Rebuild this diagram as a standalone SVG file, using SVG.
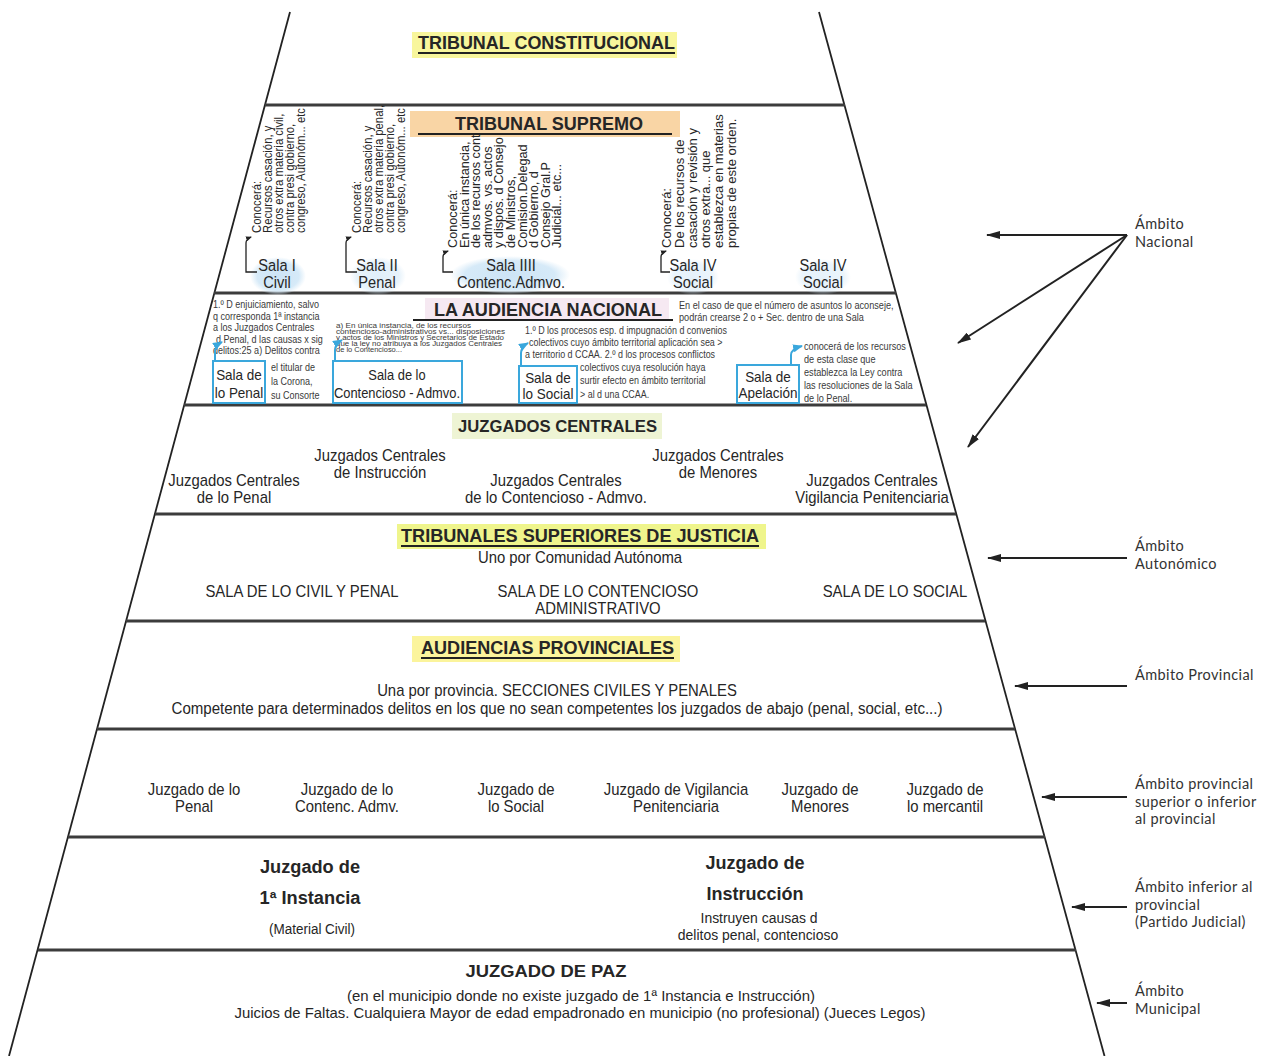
<svg xmlns="http://www.w3.org/2000/svg" width="1271" height="1056" viewBox="0 0 1271 1056">
<style>
 .t{font-family:"Liberation Sans",Arial,sans-serif;fill:#262626}
 .b{font-weight:bold}
 .n{font-size:16px}
 .sl{font-size:17px}
 .bx{font-size:15px}
 .sm{font-size:10.5px;fill:#3a3a3a}
 .tiny{font-size:7.5px;fill:#3a3a3a}
 .side{font-family:Lato,"Open Sans",sans-serif;font-size:14.5px;letter-spacing:0.4px;fill:#333}
 .edge{stroke:#222;stroke-width:1.8;fill:none}
 .band{stroke:#3c3c3c;stroke-width:3;fill:none}
 .ul{stroke:#222;stroke-width:2}
 .box{fill:#fff;stroke:#3aa7dc;stroke-width:2}
 .blue{stroke:#3aa7dc;stroke-width:2;fill:none}
 .arr{stroke:#222;stroke-width:2;fill:none}
 .brk{stroke:#222;stroke-width:1.3;fill:none}
</style>
<defs>
 <marker id="ah" viewBox="0 0 14 8" refX="13" refY="4" markerWidth="14" markerHeight="8" markerUnits="userSpaceOnUse" orient="auto"><path d="M0,0 L14,4 L0,8 Z" fill="#222"/></marker>
 <marker id="bh" viewBox="0 0 10 8" refX="9" refY="4" markerWidth="10" markerHeight="8" markerUnits="userSpaceOnUse" orient="auto"><path d="M0,0 L10,4 L0,8 Z" fill="#3aa7dc"/></marker>
 <marker id="sh" viewBox="0 0 6 5" refX="5" refY="2.5" markerWidth="6" markerHeight="5" markerUnits="userSpaceOnUse" orient="auto"><path d="M0,0 L6,2.5 L0,5 Z" fill="#222"/></marker>
 <radialGradient id="eg"><stop offset="0" stop-color="#cde4f6"/><stop offset="0.75" stop-color="#d6eaf8"/><stop offset="1" stop-color="#d9ebf8" stop-opacity="0"/></radialGradient>
</defs>

<g id="frame">
 <line class="edge" x1="290" y1="12" x2="9" y2="1056"/>
 <line class="edge" x1="819" y1="12" x2="1104.5" y2="1056"/>
 <line class="band" x1="265" y1="105" x2="845" y2="105"/>
 <line class="band" x1="214" y1="293" x2="896" y2="293"/>
 <line class="band" x1="184" y1="405" x2="926" y2="405"/>
 <line class="band" x1="155" y1="514" x2="956" y2="514"/>
 <line class="band" x1="126" y1="621" x2="985" y2="621"/>
 <line class="band" x1="97" y1="729" x2="1015" y2="729"/>
 <line class="band" x1="68" y1="837" x2="1045" y2="837"/>
 <line class="band" x1="38" y1="950" x2="1076" y2="950"/>
</g>

<g id="tribunal-constitucional">
 <rect x="412" y="32" width="265" height="26" fill="#f8f69c"/>
 <text class="t b" x="418" y="49" font-size="18" textLength="257" lengthAdjust="spacingAndGlyphs">TRIBUNAL CONSTITUCIONAL</text>
 <line class="ul" x1="418" y1="53" x2="675" y2="53"/>
</g>

<g id="tribunal-supremo">
 <rect x="410" y="111" width="270" height="26" fill="#f9d5a5"/>
 <text class="t b" x="455" y="130" font-size="18" textLength="188" lengthAdjust="spacingAndGlyphs">TRIBUNAL SUPREMO</text>
 <line class="ul" x1="418" y1="134" x2="672" y2="134"/>
 <ellipse cx="278" cy="276" rx="28" ry="19" fill="url(#eg)"/>
 <ellipse cx="378" cy="276" rx="28" ry="19" fill="url(#eg)" opacity="0.6"/>
 <ellipse cx="510" cy="275" rx="60" ry="19" fill="url(#eg)"/>
 <ellipse cx="693" cy="277" rx="26" ry="18" fill="url(#eg)" opacity="0.5"/>
 <ellipse cx="823" cy="277" rx="28" ry="18" fill="url(#eg)" opacity="0.5"/>
 <text class="t" font-size="12.3" fill="#333" transform="translate(261,233) rotate(-90) scale(0.92,1)"><tspan x="0" y="0">Conocerá:</tspan><tspan x="0" y="11">Recursos casación, y</tspan><tspan x="0" y="22">otros extra materia civil,</tspan><tspan x="0" y="33">contra presi gobierno,</tspan><tspan x="0" y="44">congreso, Autonóm... etc</tspan></text>
 <text class="t" font-size="12.3" fill="#333" transform="translate(361,233) rotate(-90) scale(0.92,1)"><tspan x="0" y="0">Conocerá:</tspan><tspan x="0" y="11">Recursos casación, y</tspan><tspan x="0" y="22">otros extra materia penal,</tspan><tspan x="0" y="33">contra presi gobierno,</tspan><tspan x="0" y="44">congreso, Autonóm... etc</tspan></text>
 <text class="t" font-size="12.7" fill="#333" transform="translate(457,248) rotate(-90)"><tspan x="0" y="0">Conocerá:</tspan><tspan x="0" y="11.6">En única instancia,</tspan><tspan x="0" y="23.2">de los recursos cont</tspan><tspan x="0" y="34.8">admvos. vs. actos</tspan><tspan x="0" y="46.4">y dispos. d Consejo</tspan><tspan x="0" y="58">de Ministros,</tspan><tspan x="0" y="69.6">Comision.Delegad</tspan><tspan x="0" y="81.2">d Gobierno, d</tspan><tspan x="0" y="92.8">Consejo Gral.P</tspan><tspan x="0" y="104.4">Judicial... etc...</tspan></text>
 <text class="t" font-size="13" fill="#333" transform="translate(671,248) rotate(-90)"><tspan x="0" y="0">Conocerá:</tspan><tspan x="0" y="13">De los recursos de</tspan><tspan x="0" y="26">casación y revisión y</tspan><tspan x="0" y="39">otros extra... que</tspan><tspan x="0" y="52">establezca en materias</tspan><tspan x="0" y="65">propias de este orden.</tspan></text>
 <g class="t sl" text-anchor="middle">
  <text transform="translate(277,271) scale(0.86,1)">Sala I</text>
  <text transform="translate(277,288) scale(0.86,1)">Civil</text>
  <text transform="translate(377,271) scale(0.86,1)">Sala II</text>
  <text transform="translate(377,288) scale(0.86,1)">Penal</text>
  <text transform="translate(511,271) scale(0.86,1)">Sala IIII</text>
  <text transform="translate(511,288) scale(0.86,1)">Contenc.Admvo.</text>
  <text transform="translate(693,271) scale(0.86,1)">Sala IV</text>
  <text transform="translate(693,288) scale(0.86,1)">Social</text>
  <text transform="translate(823,271) scale(0.86,1)">Sala IV</text>
  <text transform="translate(823,288) scale(0.86,1)">Social</text>
 </g>
</g>

<g id="audiencia-nacional">
 <rect x="425" y="298" width="244" height="23" fill="#f6e9f2"/>
 <text class="t b" x="434" y="316" font-size="18" textLength="228" lengthAdjust="spacingAndGlyphs">LA AUDIENCIA NACIONAL</text>
 <line class="ul" x1="413" y1="320" x2="673" y2="320"/>
 <g class="t sm">
  <text transform="translate(213,308) scale(0.86,1)">1.º D enjuiciamiento, salvo</text>
  <text transform="translate(213,319.5) scale(0.86,1)">q corresponda 1ª instancia</text>
  <text transform="translate(213,331) scale(0.86,1)">a los Juzgados Centrales</text>
  <text transform="translate(216,342.5) scale(0.86,1)">d Penal, d las causas x sig</text>
  <text transform="translate(213,354) scale(0.86,1)">delitos:25 a) Delitos contra</text>
  <text transform="translate(271,371) scale(0.86,1)">el titular de</text>
  <text transform="translate(271,385) scale(0.86,1)">la Corona,</text>
  <text transform="translate(271,399) scale(0.86,1)">su Consorte</text>
  <text transform="translate(679,309) scale(0.87,1)">En el caso de que el número de asuntos lo aconseje,</text>
  <text transform="translate(679,321) scale(0.87,1)">podrán crearse 2 o + Sec. dentro de una Sala</text>
  <text transform="translate(525,334) scale(0.85,1)">1.º D los procesos esp. d impugnación d convenios</text>
  <text transform="translate(529,346) scale(0.85,1)">colectivos cuyo ámbito territorial aplicación sea &gt;</text>
  <text transform="translate(525,358) scale(0.85,1)">a territorio d CCAA. 2.º d los procesos conflictos</text>
  <text transform="translate(580,371) scale(0.85,1)">colectivos cuya resolución haya</text>
  <text transform="translate(580,384) scale(0.85,1)">surtir efecto en ámbito territorial</text>
  <text transform="translate(580,398) scale(0.85,1)">&gt; al d una CCAA.</text>
  <text transform="translate(804,350) scale(0.87,1)">conocerá de los recursos</text>
  <text transform="translate(804,363) scale(0.87,1)">de esta clase que</text>
  <text transform="translate(804,376) scale(0.87,1)">establezca la Ley contra</text>
  <text transform="translate(804,389) scale(0.87,1)">las resoluciones de la Sala</text>
  <text transform="translate(804,402) scale(0.87,1)">de lo Penal.</text>
 </g>
 <g class="t tiny">
  <text transform="translate(336,328) scale(1,0.85)" textLength="135" lengthAdjust="spacingAndGlyphs">a) En única instancia, de los recursos</text>
  <text transform="translate(336,334) scale(1,0.85)" textLength="169" lengthAdjust="spacingAndGlyphs">contencioso-administrativos vs... disposiciones</text>
  <text transform="translate(336,340) scale(1,0.85)" textLength="168" lengthAdjust="spacingAndGlyphs">y actos de los Ministros y Secretarios de Estado</text>
  <text transform="translate(336,346) scale(1,0.85)" textLength="166" lengthAdjust="spacingAndGlyphs">que la ley no atribuya a los Juzgados Centrales</text>
  <text transform="translate(336,352) scale(1,0.85)" textLength="66" lengthAdjust="spacingAndGlyphs">de lo Contencioso...</text>
 </g>
 <g id="sala-penal-an">
  <rect class="box" x="213" y="361" width="52" height="42"/>
  <text class="t bx" text-anchor="middle" transform="translate(239,380) scale(0.9,1)">Sala de</text>
  <text class="t bx" text-anchor="middle" transform="translate(239,398) scale(0.9,1)">lo Penal</text>
 </g>
 <g id="sala-contencioso-an">
  <rect class="box" x="333" y="361" width="129" height="42"/>
  <text class="t bx" text-anchor="middle" transform="translate(397,380) scale(0.86,1)">Sala de lo</text>
  <text class="t bx" text-anchor="middle" transform="translate(397,398) scale(0.86,1)">Contencioso - Admvo.</text>
 </g>
 <g id="sala-social-an">
  <rect class="box" x="519" y="366" width="58" height="37"/>
  <text class="t bx" text-anchor="middle" transform="translate(548,383) scale(0.9,1)">Sala de</text>
  <text class="t bx" text-anchor="middle" transform="translate(548,399) scale(0.9,1)">lo Social</text>
 </g>
 <g id="sala-apelacion-an">
  <rect class="box" x="737" y="365" width="62" height="38"/>
  <text class="t bx" text-anchor="middle" transform="translate(768,382) scale(0.9,1)">Sala de</text>
  <text class="t bx" text-anchor="middle" transform="translate(768,398) scale(0.9,1)">Apelación</text>
 </g>
</g>

<g id="juzgados-centrales">
 <rect x="452" y="413" width="210" height="26" fill="#eef4d4"/>
 <text class="t b" x="458" y="432" font-size="17" textLength="199" lengthAdjust="spacingAndGlyphs">JUZGADOS CENTRALES</text>
 <g class="t n" text-anchor="middle">
  <text transform="translate(234,486) scale(0.93,1)">Juzgados Centrales</text>
  <text transform="translate(234,503) scale(0.93,1)">de lo Penal</text>
  <text transform="translate(380,461) scale(0.93,1)">Juzgados Centrales</text>
  <text transform="translate(380,478) scale(0.93,1)">de Instrucción</text>
  <text transform="translate(556,486) scale(0.93,1)">Juzgados Centrales</text>
  <text transform="translate(556,503) scale(0.93,1)">de lo Contencioso - Admvo.</text>
  <text transform="translate(718,461) scale(0.93,1)">Juzgados Centrales</text>
  <text transform="translate(718,478) scale(0.93,1)">de Menores</text>
  <text transform="translate(872,486) scale(0.93,1)">Juzgados Centrales</text>
  <text transform="translate(872,503) scale(0.93,1)">Vigilancia Penitenciaria</text>
 </g>
</g>

<g id="tribunales-superiores">
 <rect x="397" y="524" width="369" height="25" fill="#eff58c"/>
 <text class="t b" x="401" y="542" font-size="18" textLength="358" lengthAdjust="spacingAndGlyphs">TRIBUNALES SUPERIORES DE JUSTICIA</text>
 <line class="ul" x1="401" y1="546" x2="759" y2="546"/>
 <g class="t n" text-anchor="middle">
  <text transform="translate(580,563) scale(0.93,1)">Uno por Comunidad Autónoma</text>
  <text transform="translate(302,597) scale(0.93,1)">SALA DE LO CIVIL Y PENAL</text>
  <text transform="translate(598,597) scale(0.93,1)">SALA DE LO CONTENCIOSO</text>
  <text transform="translate(598,614) scale(0.93,1)">ADMINISTRATIVO</text>
  <text transform="translate(895,597) scale(0.93,1)">SALA DE LO SOCIAL</text>
 </g>
</g>

<g id="audiencias-provinciales">
 <rect x="412" y="636" width="268" height="26" fill="#fbf49c"/>
 <text class="t b" x="421" y="654" font-size="18" textLength="253" lengthAdjust="spacingAndGlyphs">AUDIENCIAS PROVINCIALES</text>
 <line class="ul" x1="421" y1="658" x2="674" y2="658"/>
 <g class="t n" text-anchor="middle">
  <text transform="translate(557,696) scale(0.93,1)">Una por provincia. SECCIONES CIVILES Y PENALES</text>
  <text x="557" y="714" textLength="771" lengthAdjust="spacingAndGlyphs">Competente para determinados delitos en los que no sean competentes los juzgados de abajo (penal, social, etc...)</text>
 </g>
</g>

<g id="juzgados-provinciales">
 <g class="t n" text-anchor="middle">
  <text transform="translate(194,795) scale(0.93,1)">Juzgado de lo</text>
  <text transform="translate(194,812) scale(0.93,1)">Penal</text>
  <text transform="translate(347,795) scale(0.93,1)">Juzgado de lo</text>
  <text transform="translate(347,812) scale(0.93,1)">Contenc. Admv.</text>
  <text transform="translate(516,795) scale(0.93,1)">Juzgado de</text>
  <text transform="translate(516,812) scale(0.93,1)">lo Social</text>
  <text transform="translate(676,795) scale(0.93,1)">Juzgado de Vigilancia</text>
  <text transform="translate(676,812) scale(0.93,1)">Penitenciaria</text>
  <text transform="translate(820,795) scale(0.93,1)">Juzgado de</text>
  <text transform="translate(820,812) scale(0.93,1)">Menores</text>
  <text transform="translate(945,795) scale(0.93,1)">Juzgado de</text>
  <text transform="translate(945,812) scale(0.93,1)">lo mercantil</text>
 </g>
</g>

<g id="juzgados-partido">
 <g class="t" text-anchor="middle">
  <text class="b" x="310" y="873" font-size="18" textLength="100" lengthAdjust="spacingAndGlyphs">Juzgado de</text>
  <text class="b" x="310" y="904" font-size="18" textLength="101" lengthAdjust="spacingAndGlyphs">1ª Instancia</text>
  <text transform="translate(312,934) scale(0.93,1)" font-size="14.5">(Material Civil)</text>
  <text class="b" x="755" y="869" font-size="18" textLength="99" lengthAdjust="spacingAndGlyphs">Juzgado de</text>
  <text class="b" x="755" y="900" font-size="18" textLength="97" lengthAdjust="spacingAndGlyphs">Instrucción</text>
  <text transform="translate(759,923) scale(0.93,1)" font-size="15">Instruyen causas d</text>
  <text transform="translate(758,940) scale(0.93,1)" font-size="15">delitos penal, contencioso</text>
 </g>
</g>

<g id="juzgado-paz">
 <g class="t" text-anchor="middle">
  <text class="b" x="546" y="977" font-size="17" textLength="161" lengthAdjust="spacingAndGlyphs">JUZGADO DE PAZ</text>
  <text x="581" y="1001" font-size="15" textLength="468" lengthAdjust="spacingAndGlyphs">(en el municipio donde no existe juzgado de 1ª Instancia e Instrucción)</text>
  <text x="580" y="1018" font-size="15" textLength="691" lengthAdjust="spacingAndGlyphs">Juicios de Faltas. Cualquiera Mayor de edad empadronado en municipio (no profesional) (Jueces Legos)</text>
 </g>
</g>

<g id="ambitos">
 <text id="ambito-nacional" class="side"><tspan x="1135" y="229">Ámbito</tspan><tspan x="1135" y="246.5">Nacional</tspan></text>
 <text id="ambito-autonomico" class="side"><tspan x="1135" y="551">Ámbito</tspan><tspan x="1135" y="568.5">Autonómico</tspan></text>
 <text id="ambito-provincial" class="side" x="1135" y="680">Ámbito Provincial</text>
 <text id="ambito-provincial-sup" class="side"><tspan x="1135" y="789">Ámbito provincial</tspan><tspan x="1135" y="806.5">superior o inferior</tspan><tspan x="1135" y="824">al provincial</tspan></text>
 <text id="ambito-inferior" class="side"><tspan x="1135" y="892">Ámbito inferior al</tspan><tspan x="1135" y="909.5">provincial</tspan><tspan x="1135" y="927">(Partido Judicial)</tspan></text>
 <text id="ambito-municipal" class="side"><tspan x="1135" y="996">Ámbito</tspan><tspan x="1135" y="1013.5">Municipal</tspan></text>
</g>

<g id="connectors">
 <line class="arr" x1="1127" y1="235" x2="987" y2="235" marker-end="url(#ah)"/>
 <line class="arr" x1="1127" y1="235" x2="958" y2="343" marker-end="url(#ah)"/>
 <line class="arr" x1="1127" y1="235" x2="968" y2="447" marker-end="url(#ah)"/>
 <line class="arr" x1="1127" y1="558" x2="988" y2="558" marker-end="url(#ah)"/>
 <line class="arr" x1="1127" y1="686" x2="1015" y2="686" marker-end="url(#ah)"/>
 <line class="arr" x1="1127" y1="797" x2="1042" y2="797" marker-end="url(#ah)"/>
 <line class="arr" x1="1127" y1="907" x2="1072" y2="907" marker-end="url(#ah)"/>
 <line class="arr" x1="1127" y1="1003" x2="1097" y2="1003" marker-end="url(#ah)"/>
 <path class="brk" d="M257,272 H246 V243 Q246,239 251,237" marker-end="url(#sh)"/>
 <path class="brk" d="M357,272 H346 V243 Q346,239 351,237" marker-end="url(#sh)"/>
 <path class="brk" d="M453,272 H443 V257 Q443,253 448,251" marker-end="url(#sh)"/>
 <path class="brk" d="M670,272 H661 V257 Q661,253 666,251" marker-end="url(#sh)"/>
 <path class="blue" d="M215,361 V351 Q215,346 222,342" marker-end="url(#bh)"/>
 <path class="blue" d="M335,361 V350 Q335,344 342,340" marker-end="url(#bh)"/>
 <path class="blue" d="M521,366 V353 Q521,347 528,343" marker-end="url(#bh)"/>
 <path class="blue" d="M791,365 V355 Q791,349 802,346" marker-end="url(#bh)"/>
</g>
</svg>
